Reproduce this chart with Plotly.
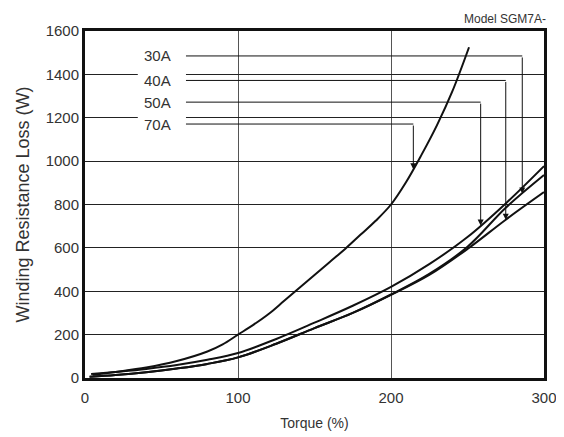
import numpy as np
import plotly.graph_objects as go

# Winding resistance loss vs torque, Model SGM7A-
torque_70A = [5, 20, 40, 60, 80, 90, 100, 110, 120, 130, 140, 150, 160, 170,
              180, 190, 200, 210, 220, 230, 240, 251]
loss_70A = [15, 28, 48, 78, 122, 155, 200, 245, 295, 355, 415, 475, 535, 595,
            660, 725, 800, 905, 1030, 1165, 1320, 1525]

torque_50A = [4, 20, 40, 60, 80, 100, 125, 150, 175, 200, 225, 250, 275, 300]
loss_50A = [18, 28, 42, 60, 84, 115, 180, 255, 333, 420, 525, 650, 805, 977]

torque_30A = [3, 20, 40, 60, 80, 100, 125, 150, 175, 200, 225, 250, 275, 300]
loss_30A = [6, 14, 27, 44, 65, 95, 158, 230, 300, 385, 480, 605, 785, 936]

torque_40A = [3, 20, 40, 60, 80, 100, 125, 150, 175, 200, 225, 250, 275, 300]
loss_40A = [6, 14, 27, 44, 65, 95, 158, 230, 300, 383, 475, 595, 730, 857]

x_ticks = [0, 100, 200, 300]
y_ticks = [0, 200, 400, 600, 800, 1000, 1200, 1400, 1600]

# callout: label, leader height (W), torque where the arrow drops
callouts = [
    ("30A", 1485, 285.8, torque_30A, loss_30A),
    ("40A", 1372, 275.0, torque_40A, loss_40A),
    ("50A", 1272, 258.6, torque_50A, loss_50A),
    ("70A", 1171, 214.6, torque_70A, loss_70A),
]

FONT = "Liberation Sans, Arial, sans-serif"
TXT = "#333333"

fig = go.Figure()

for t, v in [(torque_70A, loss_70A), (torque_50A, loss_50A),
             (torque_30A, loss_30A), (torque_40A, loss_40A)]:
    fig.add_trace(go.Scatter(
        x=t, y=v, mode="lines",
        line=dict(color="#111111", width=2, shape="spline", smoothing=1.0),
        showlegend=False, hoverinfo="skip",
    ))

# white patch behind the labels (breaks the gridlines)
fig.add_shape(type="rect", x0=34.5, x1=66, y0=1120, y1=1540,
              xref="x", yref="y", fillcolor="white", line_width=0,
              layer="between")

for label, y_lead, t_arrow, t, v in callouts:
    tip = float(np.interp(t_arrow, t, v))
    fig.add_shape(type="line", x0=66, x1=t_arrow, y0=y_lead, y1=y_lead,
                  xref="x", yref="y", line=dict(color="#111111", width=1))
    fig.add_annotation(x=t_arrow, y=tip, ax=t_arrow, ay=y_lead,
                       xref="x", yref="y", axref="x", ayref="y",
                       showarrow=True, arrowhead=2, arrowsize=1.2,
                       arrowwidth=1, arrowcolor="#111111", text="", standoff=0)
    fig.add_annotation(x=47.7, y=y_lead, xref="x", yref="y", text=label,
                       showarrow=False, font=dict(family=FONT, size=15, color=TXT))

fig.add_annotation(x=1.008, y=1.034, xref="paper", yref="paper",
                   xanchor="right", yanchor="middle", text="Model SGM7A-",
                   showarrow=False, font=dict(family=FONT, size=12, color=TXT))

# page body keeps an 8px margin, so the figure is 8px smaller each way
fig.update_layout(
    width=556, height=429,
    margin=dict(l=77, r=20, t=23, b=59),
    paper_bgcolor="white", plot_bgcolor="white",
    font=dict(family=FONT, size=15, color=TXT),
)
fig.update_xaxes(
    range=[0, 300], tickvals=x_ticks, showgrid=True, gridcolor="#555555", gridwidth=1,
    showline=True, mirror=True, linecolor="#111111", linewidth=3, zeroline=False,
    ticks="", ticklabelstandoff=4, automargin=False,
    title=dict(text="Torque (%)", font=dict(size=14, color=TXT), standoff=14),
    tickfont=dict(size=15, color=TXT),
)
fig.update_yaxes(
    range=[0, 1600], tickvals=y_ticks, showgrid=True, gridcolor="#222222", gridwidth=1,
    showline=True, mirror=True, linecolor="#111111", linewidth=3, zeroline=False,
    ticks="", automargin=False,
    title=dict(text="Winding Resistance Loss (W)", font=dict(size=18, color=TXT), standoff=12),
    tickfont=dict(size=15, color=TXT),
)

fig.write_html("out.html")
